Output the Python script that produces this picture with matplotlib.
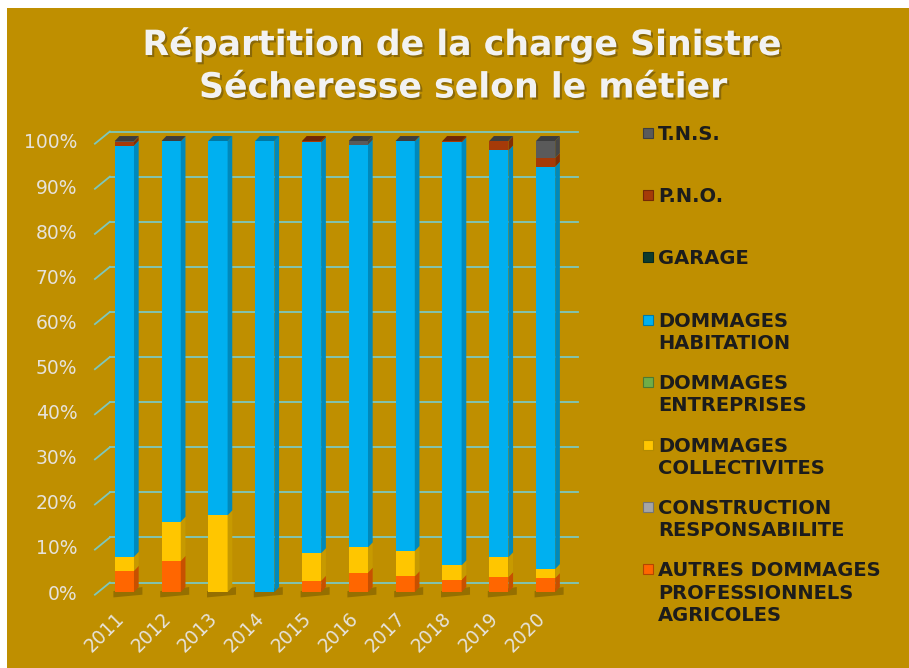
import numpy as np
import matplotlib.pyplot as plt
from matplotlib.patches import Rectangle
from matplotlib.transforms import ScaledTranslation
import matplotlib.patheffects as pe
from matplotlib.colors import to_rgb

# Share of the drought claims charge per line of business (%)
years = ['2011', '2012', '2013', '2014', '2015', '2016', '2017', '2018', '2019', '2020']
autres = [4.7, 6.9, 0.0, 0.0, 2.5, 4.3, 3.5, 2.7, 3.3, 3.1]
construction = [0, 0, 0, 0, 0, 0, 0, 0, 0, 0]
collectivites = [3.1, 8.7, 17.0, 0.0, 6.1, 5.6, 5.6, 3.2, 4.4, 2.0]
entreprises = [0, 0, 0, 0, 0, 0, 0, 0, 0, 0]
habitation = [91.2, 84.3, 83.0, 100.0, 91.1, 89.3, 90.8, 93.8, 90.2, 89.2]
garage = [0, 0, 0, 0, 0, 0, 0, 0, 0, 0]
pno = [0.8, 0.0, 0.0, 0.0, 0.3, 0.0, 0.0, 0.3, 2.0, 1.9]
tns = [0.2, 0.1, 0.0, 0.0, 0.0, 0.8, 0.1, 0.0, 0.1, 3.8]

# bottom -> top
series = [
    ("AUTRES DOMMAGES\nPROFESSIONNELS\nAGRICOLES", autres, '#FF6600'),
    ("CONSTRUCTION\nRESPONSABILITE", construction, '#A5A5A5'),
    ("DOMMAGES\nCOLLECTIVITES", collectivites, '#FFC600'),
    ("DOMMAGES\nENTREPRISES", entreprises, '#70AD47'),
    ("DOMMAGES\nHABITATION", habitation, '#00B0F0'),
    ("GARAGE", garage, '#0C3B2E'),
    ("P.N.O.", pno, '#A53A08'),
    ("T.N.S.", tns, '#5A5A5A'),
]

gold = '#BF8F00'
grid_c = '#7CC8BE'
tick_c = '#E6E2DA'


def shade(c, f):
    r, g, b = to_rgb(c)
    return (r * f, g * f, b * f)


fig = plt.figure(figsize=(9.09, 6.68), dpi=100, facecolor='white')
fig.patches.append(Rectangle((7 / 909, 0), 1, 660 / 668, transform=fig.transFigure,
                             facecolor=gold, edgecolor='none', zorder=-10))

ax = fig.add_axes([101 / 909, 76 / 668, 468 / 909, 451 / 668])
ax.set_facecolor('none')
ax.set_xlim(-0.5, 9.5)
ax.set_ylim(0, 100)
for s in ax.spines.values():
    s.set_visible(False)

# back wall gridlines + side wall diagonals
for v in range(0, 101, 10):
    ax.plot([-0.31, 9.69], [v + 2.1, v + 2.1], color=grid_c, lw=1.3, clip_on=False, zorder=1)
    ax.plot([-0.63, -0.31], [v - 0.6, v + 2.1], color=grid_c, lw=1.3, clip_on=False, zorder=1)

x = np.arange(len(years))
w = 0.41
dx = 0.1
dy = 1.1

# floor shadows
for xi in x:
    ax.fill([xi - w / 2 - 0.03, xi + w / 2 + dx + 0.08, xi + w / 2 + dx + 0.08, xi - w / 2 - 0.03],
            [-1.2, -0.6, dy, 0.2], color='black', alpha=0.22, lw=0, zorder=2, clip_on=False)

bottom = np.zeros(len(years))
top_col = [None] * len(years)
for label, vals, col in series:
    vals = np.array(vals, dtype=float)
    ax.bar(x, vals, w, bottom=bottom, color=col, linewidth=0, zorder=3)
    for i, (xi, b, v) in enumerate(zip(x, bottom, vals)):
        if v > 0:
            xr = xi + w / 2
            ax.fill([xr, xr + dx, xr + dx, xr], [b, b + dy, b + v + dy, b + v],
                    color=shade(col, 0.78), lw=0, zorder=3, clip_on=False)
            top_col[i] = col
    bottom = bottom + vals

for xi, t, col in zip(x, bottom, top_col):
    ax.fill([xi - w / 2, xi + w / 2, xi + w / 2 + dx, xi - w / 2 + dx], [t, t, t + dy, t + dy],
            color=shade(col, 0.68), lw=0, zorder=3, clip_on=False)

ax.set_yticks(range(0, 101, 10))
ax.set_yticklabels([f'{v}%' for v in range(0, 101, 10)])
ax.tick_params(axis='y', length=0, pad=17, labelsize=13.5, labelcolor=tick_c)
ax.set_xticks(x)
ax.set_xticklabels(years, rotation=45, ha='right', rotation_mode='anchor')
ax.tick_params(axis='x', length=0, pad=12, labelsize=13.5, labelcolor=tick_c)
for lbl in ax.get_xticklabels():
    lbl.set_transform(lbl.get_transform() + ScaledTranslation(-10 / 100, 0, fig.dpi_scale_trans))

# title
shadow = [pe.SimplePatchShadow(offset=(1.5, -1.5), shadow_rgbFace='#4A3A10', alpha=0.45), pe.Normal()]
fig.text(462 / 909, 1 - 55 / 668, 'Répartition de la charge Sinistre', ha='center', va='baseline',
         fontsize=25, fontweight='bold', color='#F2F2F2', path_effects=shadow)
fig.text(463 / 909, 1 - 97.5 / 668, 'Sécheresse selon le métier', ha='center', va='baseline',
         fontsize=25, fontweight='bold', color='#F2F2F2', path_effects=shadow)

# legend (top entry first)
for i, (label, vals, col) in enumerate(reversed(series)):
    yc = 132.5 + i * 62.4
    fig.patches.append(Rectangle((643 / 909, 1 - (yc + 5) / 668), 10 / 909, 10 / 668,
                                 transform=fig.transFigure, facecolor=col,
                                 edgecolor=shade(col, 0.7), lw=0.8))
    for j, line in enumerate(label.split('\n')):
        fig.text(658 / 909, 1 - (yc + 7 + j * 22.3) / 668, line, ha='left', va='baseline',
                 fontsize=14, fontweight='bold', color='#1C1C1C')

fig.savefig('out.png', dpi=100, facecolor=fig.get_facecolor())
